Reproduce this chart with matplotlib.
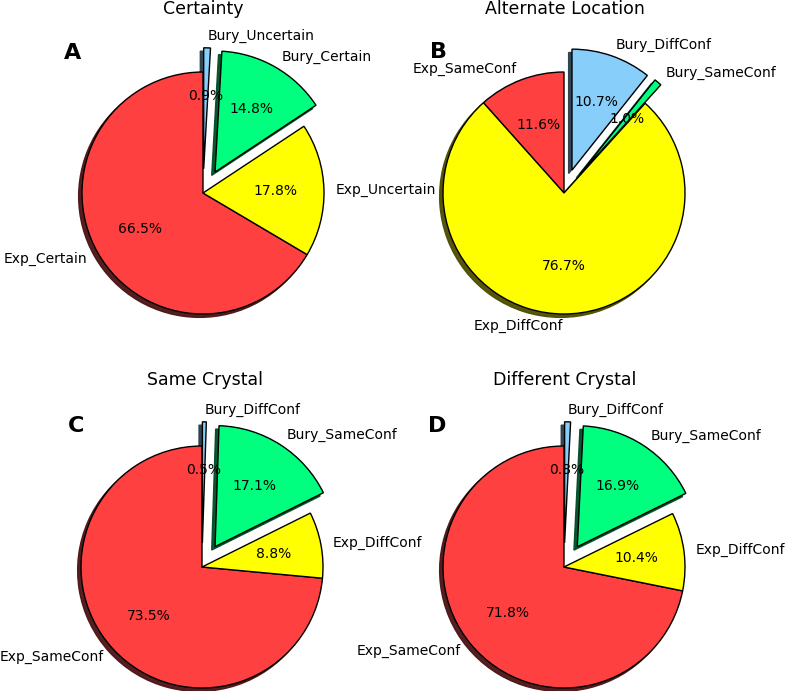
import matplotlib
matplotlib.use("Agg")
import matplotlib.pyplot as plt

# 每個圓餅圖的資料（順序：Exp 紅、Exp 黃、Bury 綠、Bury 藍）
certainty_labels = ["Exp_Certain", "Exp_Uncertain", "Bury_Certain", "Bury_Uncertain"]
certainty_values = [66.5, 17.8, 14.8, 0.9]

altloc_labels = ["Exp_SameConf", "Exp_DiffConf", "Bury_SameConf", "Bury_DiffConf"]
altloc_values = [11.6, 76.7, 1.0, 10.7]

same_labels = ["Exp_SameConf", "Exp_DiffConf", "Bury_SameConf", "Bury_DiffConf"]
same_values = [73.52, 8.83, 17.13, 0.52]

diff_labels = ["Exp_SameConf", "Exp_DiffConf", "Bury_SameConf", "Bury_DiffConf"]
diff_values = [71.84, 10.44, 16.93, 0.79]

titles = ["Certainty", "Alternate Location", "Same Crystal", "Different Crystal"]
letters = ["A", "B", "C", "D"]

colors = ["#FF4040", "#FFFF00", "#00FF7F", "#87CEFA"]
explode = (0, 0, 0.2, 0.2)

W, H = 787, 691
fig = plt.figure(figsize=(W / 100, H / 100), dpi=100)

# 圓心位置（像素）與半徑
centers = [(203, 193), (564, 193), (202, 567), (564, 567)]
radius_px = 121
side = 2.5 * radius_px

title_pos = [(203, 9), (565, 9), (205, 380), (565, 380)]
letter_pos = [(73, 53), (438, 52), (76, 426), (437, 426)]

data = [
    (certainty_labels, certainty_values),
    (altloc_labels, altloc_values),
    (same_labels, same_values),
    (diff_labels, diff_values),
]

for i, (labels, values) in enumerate(data):
    cx, cy = centers[i]
    ax = fig.add_axes([(cx - side / 2) / W, (H - cy - side / 2) / H, side / W, side / H])
    ax.pie(values, labels=labels, colors=colors, explode=explode,
           autopct="%1.1f%%", startangle=90,
           shadow={"ox": -0.02, "oy": -0.02, "alpha": 0.95},
           wedgeprops={"edgecolor": "black", "linewidth": 1},
           textprops={"fontsize": 10})
    ax.set_xlim(-1.25, 1.25)
    ax.set_ylim(-1.25, 1.25)
    ax.set_aspect("equal")

    tx, ty = title_pos[i]
    fig.text(tx / W, 1 - ty / H, titles[i], ha="center", va="center", fontsize=12.5)
    lx, ly = letter_pos[i]
    fig.text(lx / W, 1 - ly / H, letters[i], ha="center", va="center",
             fontsize=16, fontweight="bold")

fig.savefig("out.png", dpi=100)
